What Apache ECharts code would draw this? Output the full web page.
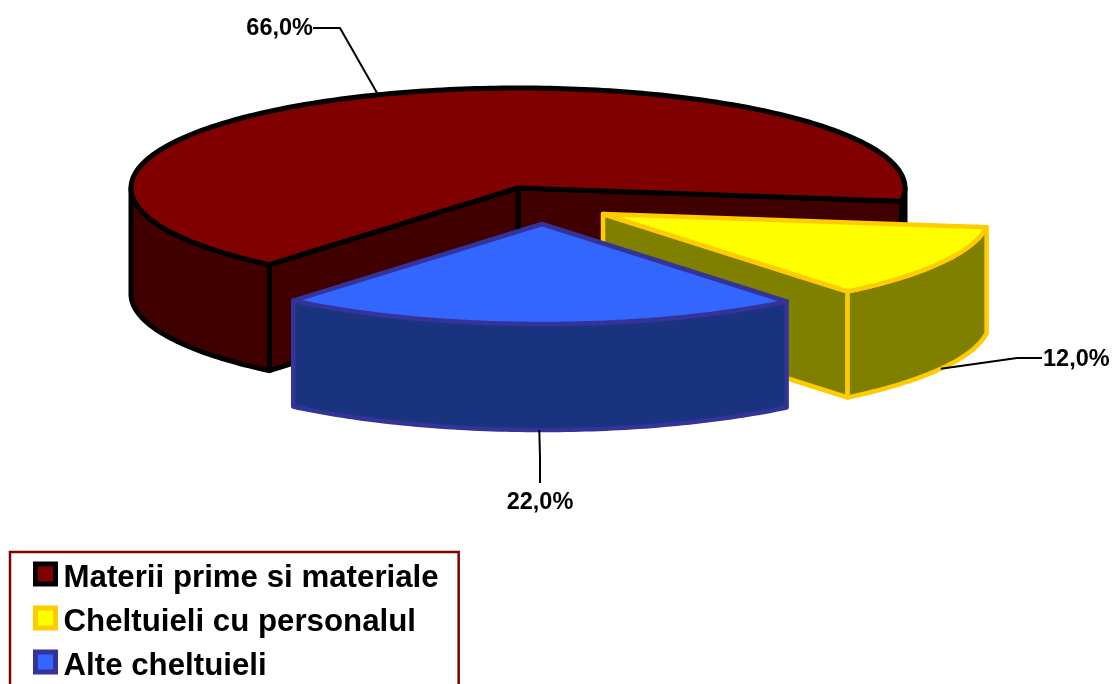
<!DOCTYPE html>
<html>
<head>
<meta charset="utf-8">
<style>html,body{margin:0;padding:0;background:#fff;overflow:hidden}#c{width:1112px;height:684px}</style>
<script src="https://cdn.jsdelivr.net/npm/echarts@6/dist/echarts.min.js"></script>
</head>
<body>
<div id="c"></div>
<script>
// Data
var categories = ['Materii prime si materiale', 'Cheltuieli cu personalul', 'Alte cheltuieli'];
var values = [66.0, 12.0, 22.0];
var valueLabels = ['66,0%', '12,0%', '22,0%'];

// Styles
var topColors = ['#800000', '#FFFF00', '#3366FF'];
var wallColors = ['#400000', '#808000', '#19337F'];
var borderColors = ['#000000', '#FFCC00', '#333399'];
var borderWidths = [5, 4.5, 4.5];

// Layout of the 3D projection (pixel domain of the hidden axes)
var center = [518, 188], rx = 387, ry = 100, depth = 106, startDeg = 230;
var explode = [[0, 0], [85, 26], [24, 36]];
var leaderBends = [[[340, 28], [313, 28]], [[1017, 358], [1042, 358]], [[540, 457], [540, 483]]];
var labelPos = [[313, 29, 'right'], [1043, 360, 'left'], [540, 503, 'center']];

var total = values.reduce(function (a, b) { return a + b; }, 0);

function sliceAngles(i) {
  var before = 0;
  for (var k = 0; k < i; k++) before += values[k];
  return [startDeg - before / total * 360, startDeg - (before + values[i]) / total * 360];
}
function pt(i, deg, drop) {
  var a = deg * Math.PI / 180;
  return [center[0] + explode[i][0] + rx * Math.cos(a),
          center[1] + explode[i][1] - ry * Math.sin(a) + (drop || 0)];
}
function apex(i, drop) {
  return [center[0] + explode[i][0], center[1] + explode[i][1] + (drop || 0)];
}
function arc(i, from, to, drop) {
  var pts = [], n = Math.max(2, Math.ceil(Math.abs(to - from)));
  for (var k = 0; k <= n; k++) pts.push(pt(i, from + (to - from) * k / n, drop));
  return pts;
}
function frontRanges(from, to) {
  // from > to, clockwise; keep the parts with sin(angle) < 0
  var out = [];
  for (var m = -2; m <= 1; m++) {
    var hi = Math.min(from, 360 * m + 360), lo = Math.max(to, 360 * m + 180);
    if (hi > lo) out.push([hi, lo]);
  }
  return out;
}

function renderSlice(params, api) {
  var i = params.seriesIndex;
  var ang = sliceAngles(i);
  var toPx = function (p) { return api.coord(p); };
  var children = [];
  function poly(points, fill) {
    children.push({
      type: 'polygon',
      shape: { points: points.map(toPx) },
      style: { fill: fill, stroke: borderColors[i], lineWidth: borderWidths[i], lineJoin: 'round' },
      silent: true
    });
  }
  function cutWall(d) {
    poly([apex(i), pt(i, d), pt(i, d, depth), apex(i, depth)], wallColors[i]);
  }
  // cut walls: only those facing the viewer
  if (Math.cos(ang[1] * Math.PI / 180) > 0) cutWall(ang[1]);
  if (Math.cos(ang[0] * Math.PI / 180) < 0) cutWall(ang[0]);
  // outer wall
  frontRanges(ang[0], ang[1]).forEach(function (r) {
    poly(arc(i, r[0], r[1]).concat(arc(i, r[1], r[0], depth)), wallColors[i]);
  });
  // top
  poly([apex(i)].concat(arc(i, ang[0], ang[1])), topColors[i]);
  return { type: 'group', children: children };
}

function renderLabel(params, api) {
  var i = params.dataIndex;
  var ang = sliceAngles(i), mid = (ang[0] + ang[1]) / 2;
  var s = Math.sin(mid * Math.PI / 180);
  var anchor = pt(i, mid, s < 0 ? depth : 0);
  var pts = [anchor].concat(leaderBends[i]).map(function (p) { return api.coord(p); });
  var lp = api.coord([labelPos[i][0], labelPos[i][1]]);
  return {
    type: 'group',
    children: [
      { type: 'polyline', shape: { points: pts }, style: { fill: null, stroke: '#000', lineWidth: 2 }, silent: true },
      { type: 'text', x: lp[0], y: lp[1], silent: true,
        style: { text: valueLabels[i], fill: '#000', font: 'bold 23.5px "Liberation Sans", Arial, sans-serif',
                 align: labelPos[i][2], verticalAlign: 'middle' } }
    ]
  };
}

var series = categories.map(function (name, i) {
  return {
    type: 'custom', name: name, coordinateSystem: 'cartesian2d',
    renderItem: renderSlice, clip: false, silent: true,
    itemStyle: { color: topColors[i], borderColor: borderColors[i], borderWidth: 5 },
    data: [[values[i]]], encode: { x: [], y: [] }
  };
});
series.push({
  type: 'custom', name: 'labels', coordinateSystem: 'cartesian2d', renderItem: renderLabel,
  clip: false, silent: true, z: 5,
  data: values.map(function (v) { return [v]; }), encode: { x: [], y: [] }
});

var chart = echarts.init(document.getElementById('c'), null, { renderer: 'canvas' });
chart.setOption({
  animation: false,
  backgroundColor: '#fff',
  tooltip: { show: false },
  grid: { left: 0, right: 0, top: 0, bottom: 0 },
  xAxis: { type: 'value', min: 0, max: 1112, show: false },
  yAxis: { type: 'value', min: 0, max: 684, inverse: true, show: false },
  legend: {
    left: 10, top: 552, width: 448, height: 160,
    orient: 'vertical', selectedMode: false,
    backgroundColor: '#fff', borderColor: '#800000', borderWidth: 2.5,
    padding: [9.5, 20, 20, 23],
    itemWidth: 20, itemHeight: 20, itemGap: 11.5,
    formatter: '{t|{name}}',
    textStyle: {
      color: '#000',
      rich: { t: { color: '#000', fontWeight: 'bold', fontSize: 31.25, lineHeight: 40, verticalAlign: 'bottom',
                   padding: [0, 0, 0, 3], fontFamily: '"Liberation Sans", Arial, sans-serif' } }
    },
    data: categories.map(function (name, i) {
      return { name: name, icon: 'rect',
               itemStyle: { color: topColors[i], borderColor: borderColors[i], borderWidth: 5 } };
    })
  },
  series: series
});
</script>
</body>
</html>
